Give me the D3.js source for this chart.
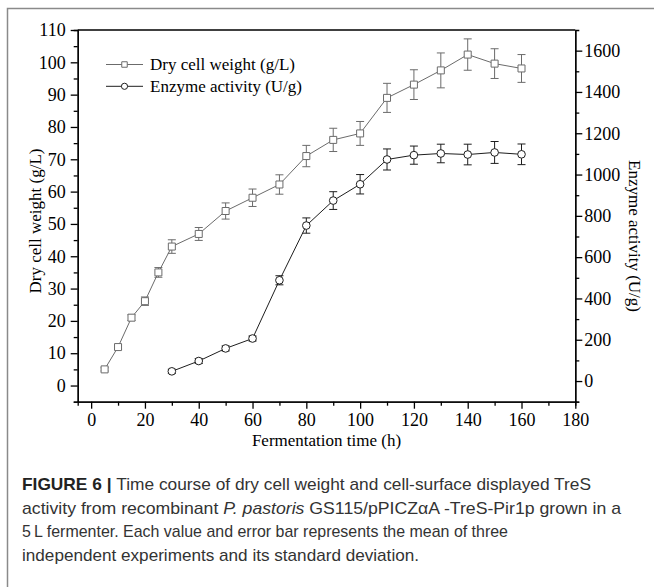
<!DOCTYPE html>
<html>
<head>
<meta charset="utf-8">
<script src="https://cdn.jsdelivr.net/npm/d3@7"></script>
<style>
  html, body { margin: 0; padding: 0; background: #fff; }
  svg { display: block; }
</style>
</head>
<body>
<svg width="654" height="587"></svg>
<script>
// fermentation time points (h)
const dcwTime = [5, 10, 15, 20, 25, 30, 40, 50, 60, 70, 80, 90, 100, 110, 120, 130, 140, 150, 160];
const dcwValue = [5, 11.9, 21, 26.1, 35, 43, 46.9, 54, 58.1, 62.2, 71, 76, 78, 89, 93.1, 97.5, 102.4, 99.6, 98.1];
const dcwErr = [0.5, 0.7, 0.9, 1.3, 1.5, 2.1, 2, 2.5, 2.7, 3, 3.3, 3.6, 3.7, 4.5, 4.6, 5.4, 4.85, 4.6, 4.3];

const enzTime = [30, 40, 50, 60, 70, 80, 90, 100, 110, 120, 130, 140, 150, 160];
const enzValue = [47, 97, 158, 206, 488, 753, 874, 953, 1073, 1094, 1102, 1097, 1107, 1098];
const enzErr = [10, 12, 12, 12, 22, 37, 43, 47, 51, 44, 45, 50, 53, 50];

const xTicks = [0, 20, 40, 60, 80, 100, 120, 140, 160, 180];
const yLeftTicks = [0, 10, 20, 30, 40, 50, 60, 70, 80, 90, 100, 110];
const yRightTicks = [0, 200, 400, 600, 800, 1000, 1200, 1400, 1600];

const legendLabels = ["Dry cell weight (g/L)", "Enzyme activity (U/g)"];
const captionLines = [
  [["FIGURE 6 | ", "bold"], ["Time course of dry cell weight and cell-surface displayed TreS", "normal"]],
  [["activity from recombinant ", "normal"], ["P. pastoris", "italic"], [" GS115/pPICZ\u03b1A -TreS-Pir1p grown in a", "normal"]],
  [["5\u2009L fermenter. Each value and error bar represents the mean of three", "normal"]],
  [["independent experiments and its standard deviation.", "normal"]]
];

const plot = {left: 77.7, right: 575.3, top: 30, bottom: 401.7};
const serif = "'Liberation Serif', 'Times New Roman', serif";
const grayCol = "#6b6b6b", darkCol = "#1e1e1e";

let svg = d3.select("svg");

// gray frame around figure
svg.append("path")
   .attr("d", "M7.5,587 V8.5 H654")
   .attr("fill", "none")
   .attr("stroke", "#8a8a8a")
   .attr("stroke-width", 1.5);

let x = d3.scaleLinear().domain([-5, 180]).range([plot.left, plot.right]);
let yL = d3.scaleLinear().domain([-5, 110]).range([plot.bottom, plot.top]);
let yR = d3.scaleLinear().domain([-100, 1700]).range([plot.bottom, plot.top]);

function styleAxis(g){
    g.selectAll("path, line").attr("stroke", "#000").attr("stroke-width", 1.3);
    g.selectAll("text")
     .style("font-family", serif)
     .style("font-size", "18px")
     .attr("fill", "#000");
}

// minor ticks first
svg.append("g")
   .attr("transform", `translate(0,${plot.bottom})`)
   .call(d3.axisBottom(x).tickValues(d3.range(10, 180, 20)).tickSize(4).tickFormat(""))
   .call(styleAxis);
svg.append("g")
   .attr("transform", `translate(${plot.left},0)`)
   .call(d3.axisLeft(yL).tickValues(d3.range(-5, 110, 10)).tickSize(4).tickFormat(""))
   .call(styleAxis);
svg.append("g")
   .attr("transform", `translate(${plot.right},0)`)
   .call(d3.axisRight(yR).tickValues(d3.range(-100, 1700, 200)).tickSize(4).tickFormat(""))
   .call(styleAxis);

// major axes
svg.append("g")
   .attr("transform", `translate(0,${plot.bottom})`)
   .call(d3.axisBottom(x).tickValues(xTicks).tickSize(7).tickSizeOuter(0).tickPadding(5).tickFormat(d3.format("d")))
   .call(styleAxis);
svg.append("g")
   .attr("transform", `translate(${plot.left},0)`)
   .call(d3.axisLeft(yL).tickValues(yLeftTicks).tickSize(7).tickSizeOuter(0).tickPadding(5).tickFormat(d3.format("d")))
   .call(styleAxis);
svg.append("g")
   .attr("transform", `translate(${plot.right},0)`)
   .call(d3.axisRight(yR).tickValues(yRightTicks).tickSize(7).tickSizeOuter(0).tickPadding(2).tickFormat(d3.format("d")))
   .call(styleAxis);

// top border
svg.append("line")
   .attr("x1", plot.left).attr("x2", plot.right)
   .attr("y1", plot.top).attr("y2", plot.top)
   .attr("stroke", "#000").attr("stroke-width", 1.3);

// axis titles
svg.append("text")
   .attr("transform", `translate(35,221) rotate(-90)`)
   .attr("text-anchor", "middle").attr("dominant-baseline", "central")
   .attr("font-family", serif).attr("font-size", 17)
   .text("Dry cell weight (g/L)");
svg.append("text")
   .attr("transform", `translate(634,236) rotate(90)`)
   .attr("text-anchor", "middle").attr("dominant-baseline", "central")
   .attr("font-family", serif).attr("font-size", 17)
   .text("Enzyme activity (U/g)");
svg.append("text")
   .attr("x", (plot.left + plot.right) / 2).attr("y", 446)
   .attr("text-anchor", "middle")
   .attr("font-family", serif).attr("font-size", 17)
   .text("Fermentation time (h)");

// series
function drawSeries(times, values, errs, yScale, color, shape){
    let pts = times.map(function(t, i){ return {t: t, v: values[i], e: errs[i]}; });
    let g = svg.append("g");

    g.append("path")
     .datum(pts)
     .attr("fill", "none")
     .attr("stroke", color)
     .attr("stroke-width", 1)
     .attr("d", d3.line().x(function(d){return x(d.t)}).y(function(d){return yScale(d.v)}));

    let eb = g.selectAll("g.err").data(pts).enter().append("g").attr("class", "err")
              .attr("stroke", color).attr("stroke-width", 1);
    eb.append("line")
      .attr("x1", function(d){return x(d.t)}).attr("x2", function(d){return x(d.t)})
      .attr("y1", function(d){return yScale(d.v - d.e)}).attr("y2", function(d){return yScale(d.v + d.e)});
    [-1, 1].forEach(function(s){
        eb.append("line")
          .attr("x1", function(d){return x(d.t) - 4}).attr("x2", function(d){return x(d.t) + 4})
          .attr("y1", function(d){return yScale(d.v + s * d.e)}).attr("y2", function(d){return yScale(d.v + s * d.e)});
    });

    g.selectAll("path.mk").data(pts).enter().append("path").attr("class", "mk")
     .attr("d", d3.symbol().type(shape).size(shape === d3.symbolSquare ? 49 : 46))
     .attr("transform", function(d){return `translate(${x(d.t)},${yScale(d.v)})`})
     .attr("fill", "#fff")
     .attr("stroke", color)
     .attr("stroke-width", 1);
}

drawSeries(dcwTime, dcwValue, dcwErr, yL, grayCol, d3.symbolSquare);
drawSeries(enzTime, enzValue, enzErr, yR, darkCol, d3.symbolCircle);

// legend
let legend = svg.append("g");
[[grayCol, d3.symbolSquare], [darkCol, d3.symbolCircle]].forEach(function(s, i){
    let ly = 64.5 + i * 21.8;
    legend.append("line")
          .attr("x1", 106).attr("x2", 143).attr("y1", ly).attr("y2", ly)
          .attr("stroke", s[0]).attr("stroke-width", 1);
    legend.append("path")
          .attr("d", d3.symbol().type(s[1]).size(30))
          .attr("transform", `translate(124.5,${ly})`)
          .attr("fill", "#fff").attr("stroke", s[0]).attr("stroke-width", 1);
    legend.append("text")
          .attr("x", 150).attr("y", ly).attr("dominant-baseline", "central")
          .attr("font-family", serif).attr("font-size", 17)
          .text(legendLabels[i]);
});

// caption
const captionWidths = [569, 599, 486, 397];
captionLines.forEach(function(parts, i){
    let t = svg.append("text")
       .attr("x", 22).attr("y", 490 + i * 23.6)
       .attr("font-family", "'Liberation Sans', Arial, sans-serif")
       .attr("font-size", 17)
       .attr("fill", "#333")
       .attr("textLength", captionWidths[i])
       .attr("lengthAdjust", "spacingAndGlyphs");
    parts.forEach(function(p){
        let ts = t.append("tspan").text(p[0]);
        if (p[1] === "bold") ts.attr("font-weight", "bold").attr("fill", "#222");
        if (p[1] === "italic") ts.attr("font-style", "italic");
    });
});
</script>
</body>
</html>
